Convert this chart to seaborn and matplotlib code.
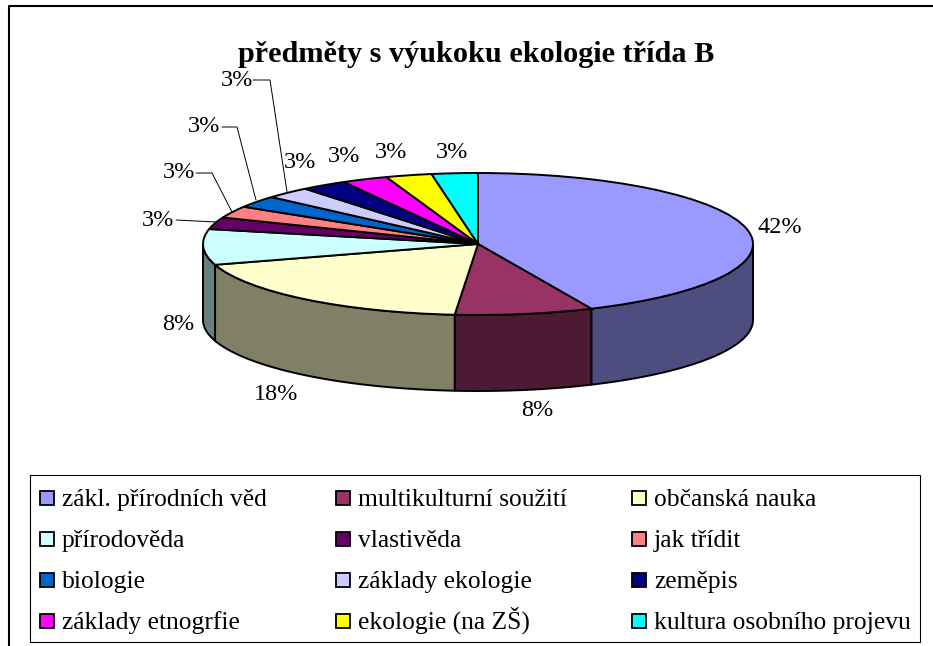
import numpy as np
import seaborn as sns
import matplotlib.pyplot as plt
from matplotlib.lines import Line2D
from matplotlib.patches import Rectangle

subjects = ['zákl. přírodních věd', 'multikulturní soužití', 'občanská nauka',
            'přírodověda', 'vlastivěda', 'jak třídit',
            'biologie', 'základy ekologie', 'zeměpis',
            'základy etnogrfie', 'ekologie (na ZŠ)', 'kultura osobního projevu']
# slice sizes as measured on the drawing
counts = [16, 3, 7, 3, 1, 1, 1, 1, 1, 1, 1, 1]
pct_labels = ['42%', '8%', '18%', '8%', '3%', '3%', '3%', '3%', '3%', '3%', '3%', '3%']
colors = ['#9999FF', '#993366', '#FFFFCC', '#CCFFFF', '#660066', '#FF8080',
          '#0066CC', '#CCCCFF', '#000080', '#FF00FF', '#FFFF00', '#00FFFF']

W, H = 933, 646
cx, cy = 478, 244      # pie centre in px
rx, ry = 275, 71       # top ellipse radii in px
depth = 76 / ry

label_px = [(780, 227), (537, 410), (276, 395), (178, 325), (158, 221), (179, 173),
            (204, 127), (237, 81), (300, 163), (344, 156), (391, 152), (452, 152)]
leaders = [[(176, 220), (216, 222)],
           [(196, 173), (212, 173), (232, 212)],
           [(222, 127), (237, 127), (256, 200)],
           [(253, 80), (270, 80), (287, 192)]]
legend_col_x = [40, 336, 632]
legend_row_y = [491, 532, 573, 614]

sns.set_theme(style='white')
plt.rcParams['font.family'] = ['Liberation Serif', 'DejaVu Serif']
palette = sns.color_palette(colors)


def fx(x):
    return x / W


def fy(y):
    return 1 - y / H


fig = plt.figure(figsize=(W / 100, H / 100), dpi=100, facecolor='white')
ax = fig.add_axes([0, 0, 1, 1])

# side walls, only the part of each slice on the front half
edges = 90 - np.cumsum([0] + counts) / sum(counts) * 360
for i in range(len(counts)):
    a1 = max(edges[i + 1], -180)
    a2 = min(edges[i], 0)
    if a1 >= a2:
        continue
    t = np.radians(np.linspace(a2, a1, 60))
    xs = np.concatenate([np.cos(t), np.cos(t[::-1])])
    ys = np.concatenate([np.sin(t), np.sin(t[::-1]) - depth])
    dark = tuple(c * 0.5 for c in palette[i])
    ax.fill(xs, ys, facecolor=dark, edgecolor='black', linewidth=1.4, joinstyle='round')

wedges, _ = ax.pie(counts, colors=palette, startangle=90, counterclock=False, radius=1,
                   wedgeprops={'edgecolor': 'black', 'linewidth': 1.4})
ax.set_aspect('auto')
ax.set_xlim(-cx / rx, (W - cx) / rx)
ax.set_ylim(-(H - cy) / ry, cy / ry)
ax.axis('off')

fig.text(fx(476), fy(54), 'předměty s výukoku ekologie třída B', fontsize=21.8,
         fontweight='bold', ha='center', va='center', color='black')

for txt, (x, y) in zip(pct_labels, label_px):
    fig.text(fx(x), fy(y), txt, fontsize=17.5, ha='center', va='center', color='black')

for line in leaders:
    fig.add_artist(Line2D([fx(p[0]) for p in line], [fy(p[1]) for p in line],
                          color='black', lw=0.7))

# outer chart border, only the top and left are in the crop
fig.add_artist(Line2D([1, fx(8.5), fx(8.5)], [fy(6), fy(6), 0], color='black', lw=1.5))

# legend drawn by hand, matplotlib's own one shifts the row with "(na ZŠ)"
fig.add_artist(Rectangle((fx(30), fy(642)), 890 / W, 167 / H, transform=fig.transFigure,
                         facecolor='white', edgecolor='black', lw=0.8))
for i, name in enumerate(subjects):
    x = legend_col_x[i % 3]
    y = legend_row_y[i // 3]
    fig.add_artist(Rectangle((fx(x), fy(y + 14)), 14 / W, 14 / H, transform=fig.transFigure,
                             facecolor=palette[i], edgecolor='black', lw=1.3))
    fig.text(fx(x + 22), fy(y + 15), name, fontsize=18.4, ha='left', va='baseline', color='black')

fig.savefig('out.png', dpi=100, facecolor='white')
